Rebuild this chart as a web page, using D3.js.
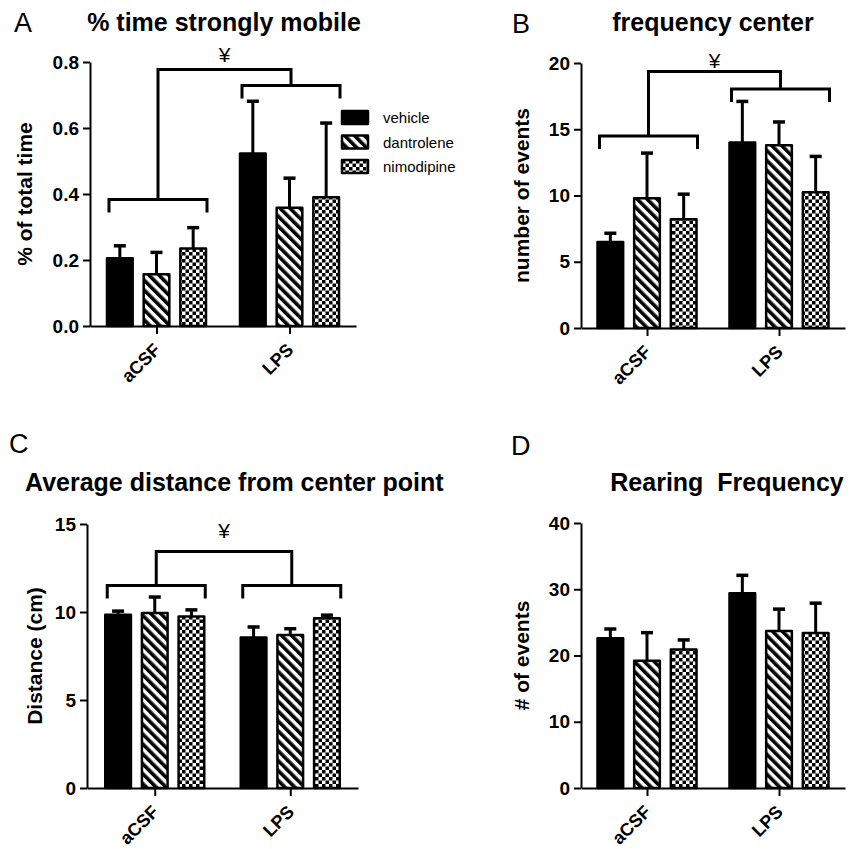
<!DOCTYPE html>
<html>
<head>
<meta charset="utf-8">
<script src="https://cdn.jsdelivr.net/npm/d3@7"></script>
<style>
  body { margin: 0; background: #fff; }
  text { font-family: "Liberation Sans", Arial, sans-serif; fill: #000; }
</style>
</head>
<body>
<svg id="chart" width="861" height="849"></svg>
<script>
// ---- data ----
const groups = ["aCSF", "LPS"];
const series = ["vehicle", "dantrolene", "nimodipine"];

// means per group [vehicle, dantrolene, nimodipine], and upper end of the error bar
const mobileMean  = [[0.205, 0.157, 0.235], [0.523, 0.358, 0.39]];
const mobileUpper = [[0.243, 0.223, 0.298], [0.681, 0.448, 0.615]];
const mobileTicks = [0, 0.2, 0.4, 0.6, 0.8];

const centerMean  = [[6.5, 9.8, 8.2], [14.0, 13.8, 10.25]];
const centerUpper = [[7.15, 13.2, 10.1], [17.1, 15.55, 12.95]];
const centerTicks = [0, 5, 10, 15, 20];

const distMean  = [[9.85, 9.95, 9.75], [8.55, 8.7, 9.65]];
const distUpper = [[10.05, 10.85, 10.12], [9.15, 9.05, 9.82]];
const distTicks = [0, 5, 10, 15];

const rearMean  = [[22.6, 19.2, 20.9], [29.4, 23.7, 23.4]];
const rearUpper = [[24.0, 23.45, 22.35], [32.1, 27.0, 27.9]];
const rearTicks = [0, 10, 20, 30, 40];

// significance brackets: level of each group bracket, joining bracket, ¥ mark
const mobileBrackets = { groups: [0.383, 0.729], join: 0.777, mark: 0.8 };
const centerBrackets = { groups: [14.5, 18.03], join: 19.36, mark: 19.64 };
const distBrackets   = { groups: [11.5, 11.5], join: 13.44, mark: 14.22 };

const svg = d3.select("#chart");

// ---- fill patterns ----
const defs = svg.append("defs");
const stripes = defs.append("pattern")
  .attr("id", "stripes")
  .attr("patternUnits", "userSpaceOnUse")
  .attr("width", 7).attr("height", 7)
  .attr("patternTransform", "rotate(-45)");
stripes.append("rect").attr("width", 7).attr("height", 7).attr("fill", "#fff");
stripes.append("rect").attr("width", 3.6).attr("height", 7).attr("fill", "#000");

const checks = defs.append("pattern")
  .attr("id", "checks")
  .attr("patternUnits", "userSpaceOnUse")
  .attr("width", 7).attr("height", 7);
checks.append("rect").attr("width", 7).attr("height", 7).attr("fill", "#fff");
checks.append("rect").attr("width", 3.5).attr("height", 3.5).attr("fill", "#000");
checks.append("rect").attr("x", 3.5).attr("y", 3.5).attr("width", 3.5).attr("height", 3.5).attr("fill", "#000");

const fills = d3.scaleOrdinal().domain(series).range(["#000", "url(#stripes)", "url(#checks)"]);

function drawPanel(cfg) {
  const g = svg.append("g");
  const bottom = cfg.top + cfg.height;
  const right = cfg.left + cfg.width;

  const x = d3.scalePoint().domain(groups).range([cfg.left, right]).padding(0.5);
  const inner = d3.scaleBand().domain(series).range([-49.5, 49.5]).paddingInner(0.3);
  const y = d3.scaleLinear().domain([0, d3.max(cfg.ticks)]).range([bottom, cfg.top]);

  // panel letter + title
  g.append("text").attr("x", cfg.letterX).attr("y", cfg.letterY)
    .style("font-size", "27px").text(cfg.letter);
  g.append("text").attr("x", cfg.titleX).attr("y", cfg.titleY)
    .attr("text-anchor", cfg.titleAnchor)
    .style("font-size", "25px").style("font-weight", "bold")
    .style("white-space", "pre")
    .text(cfg.title);

  // bars
  const rows = [];
  groups.forEach((grp, gi) => series.forEach((s, si) => {
    rows.push({ grp, s, mean: cfg.mean[gi][si], upper: cfg.upper[gi][si] });
  }));
  const bw = inner.bandwidth();
  const cx = d => x(d.grp) + inner(d.s) + bw / 2;

  g.append("g").selectAll("line.err").data(rows).join("line")
    .attr("x1", cx).attr("x2", cx)
    .attr("y1", d => y(d.mean)).attr("y2", d => y(d.upper))
    .attr("stroke", "#000").attr("stroke-width", 3);
  g.append("g").selectAll("line.cap").data(rows).join("line")
    .attr("x1", d => cx(d) - 6).attr("x2", d => cx(d) + 6)
    .attr("y1", d => y(d.upper)).attr("y2", d => y(d.upper))
    .attr("stroke", "#000").attr("stroke-width", 3.5);

  g.append("g").selectAll("rect").data(rows).join("rect")
    .attr("x", d => x(d.grp) + inner(d.s))
    .attr("y", d => y(d.mean))
    .attr("width", bw)
    .attr("height", d => y(0) - y(d.mean))
    .attr("fill", d => fills(d.s))
    .attr("stroke", "#000").attr("stroke-width", 2.5)
    .attr("stroke-linejoin", "round");

  // axes
  const yAxis = g.append("g").attr("transform", `translate(${cfg.left},0)`)
    .call(d3.axisLeft(y).tickValues(cfg.ticks).tickFormat(cfg.fmt).tickSize(7).tickSizeOuter(0).tickPadding(4));
  const xAxis = g.append("g").attr("transform", `translate(0,${bottom})`)
    .call(d3.axisBottom(x).tickSize(8).tickSizeOuter(0).tickFormat(""));
  [yAxis, xAxis].forEach(a => {
    a.selectAll("path, line").attr("stroke", "#000").attr("stroke-width", 2);
  });
  yAxis.selectAll("text").style("font-size", "19px").style("font-weight", "bold")
    .attr("fill", "#000").style("font-family", '"Liberation Sans", Arial, sans-serif');

  g.append("g").selectAll("text").data(groups).join("text")
    .attr("transform", d => `translate(${x(d) + 5},${bottom + 25}) rotate(-45)`)
    .attr("text-anchor", "end")
    .style("font-size", "18px").style("font-weight", "bold")
    .text(d => d);

  // y label
  g.append("text")
    .attr("transform", `translate(${cfg.left - cfg.labelOffset},${(cfg.top + bottom) / 2}) rotate(-90)`)
    .attr("text-anchor", "middle")
    .attr("dy", "0.35em")
    .style("font-size", "21px").style("font-weight", "bold")
    .text(cfg.ylabel);

  // brackets
  if (cfg.brackets) {
    const b = cfg.brackets;
    const mids = [];
    const path = d3.path();
    groups.forEach((grp, gi) => {
      const x0 = x(grp) + inner(series[0]) + 2;
      const x1 = x(grp) + inner(series[2]) + bw + 1;
      const yy = y(b.groups[gi]);
      path.moveTo(x0, yy + 13); path.lineTo(x0, yy); path.lineTo(x1, yy); path.lineTo(x1, yy + 13);
      mids.push([(x0 + x1) / 2, yy]);
    });
    const yj = y(b.join);
    path.moveTo(mids[0][0], mids[0][1]); path.lineTo(mids[0][0], yj);
    path.lineTo(mids[1][0], yj); path.lineTo(mids[1][0], mids[1][1]);
    g.append("path").attr("d", path.toString())
      .attr("fill", "none").attr("stroke", "#000").attr("stroke-width", 3);
    g.append("text").attr("x", (mids[0][0] + mids[1][0]) / 2).attr("y", y(b.mark))
      .attr("text-anchor", "middle").style("font-size", "21px").text("¥");
  }
  return { g, x, y };
}

const pA = drawPanel({ left: 90, top: 62, width: 266, height: 264, ticks: mobileTicks, fmt: d3.format(".1f"),
  mean: mobileMean, upper: mobileUpper, brackets: mobileBrackets,
  letter: "A", letterX: 14, letterY: 32, title: "% time strongly mobile", titleX: 224, titleY: 31, titleAnchor: "middle",
  ylabel: "% of total time", labelOffset: 65 });

drawPanel({ left: 581, top: 63, width: 264, height: 265, ticks: centerTicks, fmt: d3.format("d"),
  mean: centerMean, upper: centerUpper, brackets: centerBrackets,
  letter: "B", letterX: 512, letterY: 33, title: "frequency center", titleX: 713, titleY: 31, titleAnchor: "middle",
  ylabel: "number of events", labelOffset: 59 });

drawPanel({ left: 87, top: 524, width: 271, height: 264, ticks: distTicks, fmt: d3.format("d"),
  mean: distMean, upper: distUpper, brackets: distBrackets,
  letter: "C", letterX: 9, letterY: 453, title: "Average distance from center point", titleX: 25, titleY: 491, titleAnchor: "start",
  ylabel: "Distance (cm)", labelOffset: 52 });

drawPanel({ left: 581, top: 523, width: 264, height: 265, ticks: rearTicks, fmt: d3.format("d"),
  mean: rearMean, upper: rearUpper, brackets: null,
  letter: "D", letterX: 511, letterY: 455, title: "Rearing  Frequency", titleX: 727, titleY: 491, titleAnchor: "middle",
  ylabel: "# of events", labelOffset: 59 });

// legend (panel A)
const legend = pA.g.append("g").attr("transform", "translate(342,111)");
const lrow = legend.selectAll("g").data(series).join("g")
  .attr("transform", (d, i) => `translate(0,${i * 24.5})`);
lrow.append("rect").attr("width", 26).attr("height", 13)
  .attr("fill", d => fills(d)).attr("stroke", "#000").attr("stroke-width", 2.5)
  .attr("stroke-linejoin", "round");
lrow.append("text").attr("x", 41).attr("y", 12)
  .style("font-size", "15px").text(d => d);
</script>
</body>
</html>
